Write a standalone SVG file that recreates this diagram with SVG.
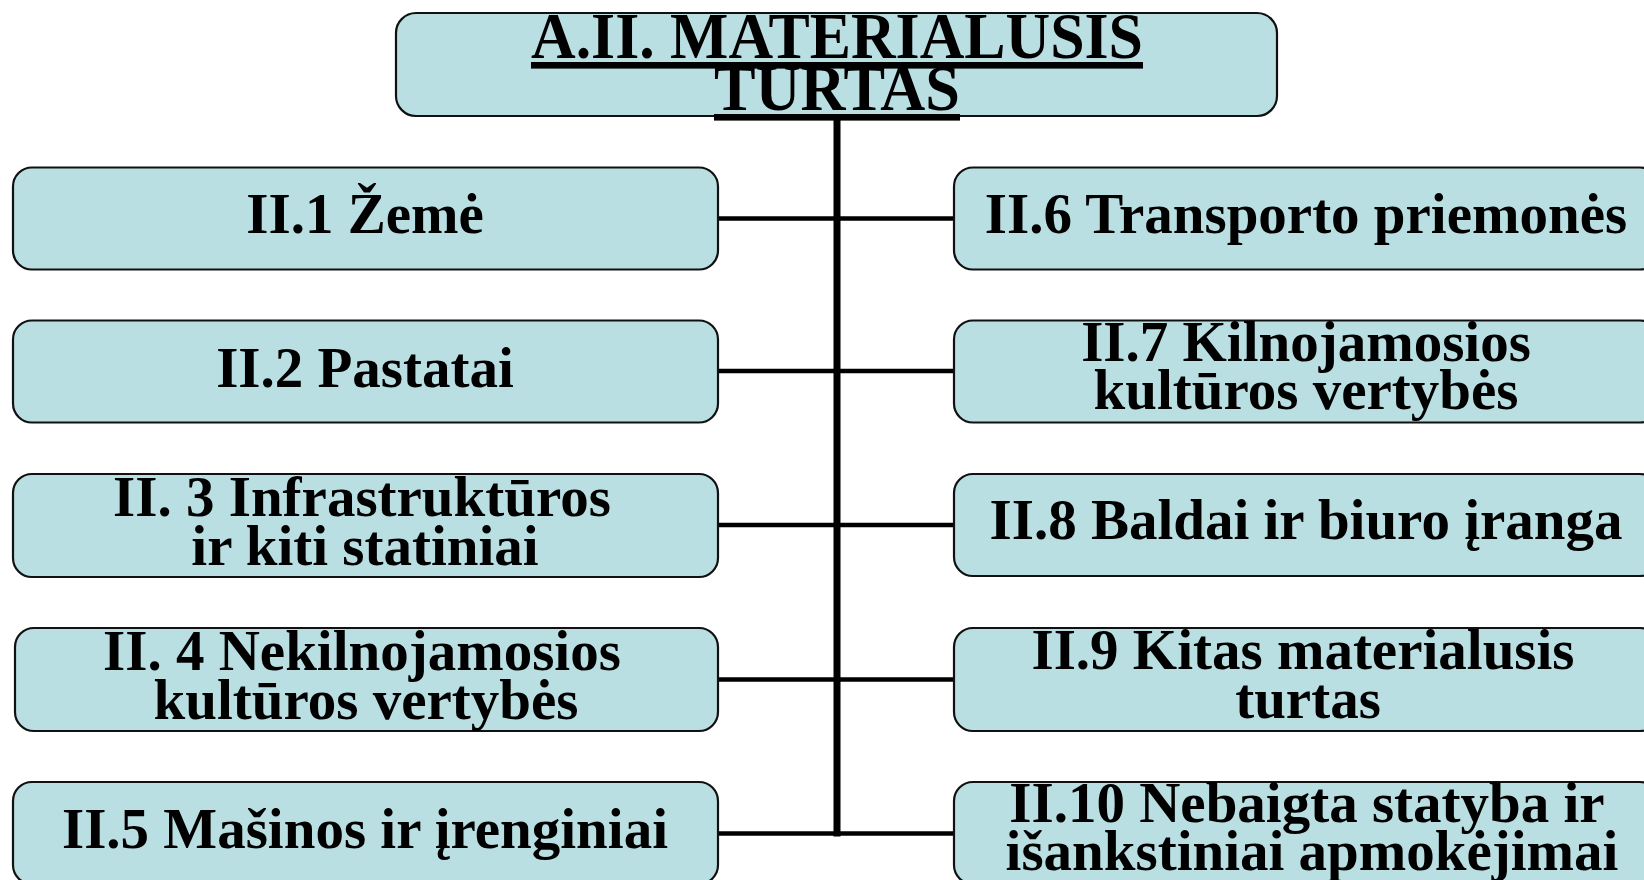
<svg xmlns="http://www.w3.org/2000/svg" width="1644" height="880" viewBox="0 0 1644 880">
<style>
.box{fill:#B9DFE3;stroke:#111;stroke-width:2.2}
.t{font-family:"Liberation Serif","Times New Roman",serif;font-weight:bold;font-size:57px;fill:#000;text-anchor:middle}
.title{font-size:66px;text-decoration:underline}
.conn{stroke:#000;fill:none}
</style>
<rect width="1644" height="880" fill="#fff"/>
<g id="connectors">
<line class="conn" x1="837" y1="116" x2="837" y2="836.5" stroke-width="7"/>
<g stroke-width="4.5">
<line class="conn" x1="718" y1="218.5" x2="954" y2="218.5"/>
<line class="conn" x1="718" y1="371" x2="954" y2="371"/>
<line class="conn" x1="718" y1="525" x2="954" y2="525"/>
<line class="conn" x1="718" y1="679.5" x2="954" y2="679.5"/>
<line class="conn" x1="718" y1="833.5" x2="954" y2="833.5"/>
</g>
</g>
<g id="root">
<rect class="box" x="396" y="13" width="881" height="103" rx="20"/>
<text class="t title" x="837" y="58" textLength="612" lengthAdjust="spacingAndGlyphs">A.II. MATERIALUSIS</text>
<text class="t title" x="837" y="110" textLength="246" lengthAdjust="spacingAndGlyphs">TURTAS</text>
</g>
<g id="n1">
<rect class="box" x="13" y="167.5" width="705" height="102" rx="19"/>
<text class="t" x="365" y="233">II.1 Žemė</text>
</g>
<g id="n2">
<rect class="box" x="13" y="320.5" width="705" height="102" rx="19"/>
<text class="t" x="365" y="387">II.2 Pastatai</text>
</g>
<g id="n3">
<rect class="box" x="13" y="474" width="705" height="103" rx="19"/>
<text class="t" x="362" y="516">II. 3 Infrastruktūros</text>
<text class="t" x="365" y="565">ir kiti statiniai</text>
</g>
<g id="n4">
<rect class="box" x="15" y="628" width="703" height="103" rx="19"/>
<text class="t" x="362" y="670">II. 4 Nekilnojamosios</text>
<text class="t" x="366" y="719">kultūros vertybės</text>
</g>
<g id="n5">
<rect class="box" x="13" y="782" width="705" height="102" rx="19"/>
<text class="t" x="365" y="848">II.5 Mašinos ir įrenginiai</text>
</g>
<g id="n6">
<rect class="box" x="954" y="167.5" width="705" height="102" rx="19"/>
<text class="t" x="1306" y="233">II.6 Transporto priemonės</text>
</g>
<g id="n7">
<rect class="box" x="954" y="320.5" width="705" height="102" rx="19"/>
<text class="t" x="1306" y="361">II.7 Kilnojamosios</text>
<text class="t" x="1306" y="409">kultūros vertybės</text>
</g>
<g id="n8">
<rect class="box" x="954" y="474" width="705" height="102" rx="19"/>
<text class="t" x="1306" y="539">II.8 Baldai ir biuro įranga</text>
</g>
<g id="n9">
<rect class="box" x="954" y="628" width="705" height="103" rx="19"/>
<text class="t" x="1303" y="669">II.9 Kitas materialusis</text>
<text class="t" x="1308" y="718">turtas</text>
</g>
<g id="n10">
<rect class="box" x="954" y="782" width="705" height="102" rx="19"/>
<text class="t" x="1307" y="822">II.10 Nebaigta statyba ir</text>
<text class="t" x="1312" y="870">išankstiniai apmokėjimai</text>
</g>
</svg>
